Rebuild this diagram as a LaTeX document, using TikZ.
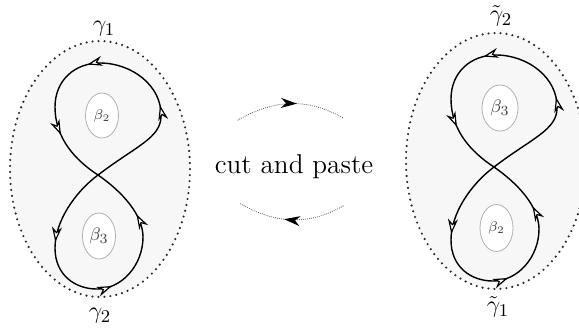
\documentclass[tikz,border=0pt]{standalone}
\usetikzlibrary{arrows.meta,decorations.markings,shapes.geometric}
\definecolor{bgc}{HTML}{F7F7F7}
\definecolor{dotc}{HTML}{2A2A2A}
\definecolor{holec}{HTML}{B0B0B0}
\definecolor{swc}{HTML}{555555}
\newcommand\eightfig[1]{%
  \coordinate (#1C) at (98,-175);
  \coordinate (#1R) at (161,-116);
  \coordinate (#1T) at (100,-63);
  \coordinate (#1L) at (55,-107);
  \coordinate (#1LL) at (55,-248);
  \coordinate (#1B) at (97,-289);
  \coordinate (#1RR) at (143,-237);
  \draw[curve] (#1C) .. controls (136,-146) and (161,-138) .. (#1R);
  \draw[curve,hk=0.12] (#1R) .. controls (162,-86) and (132,-63) .. (#1T);
  \draw[curve,hk=0.18] (#1T) .. controls (75,-63) and (55,-80) .. (#1L);
  \draw[curve,hk=0.34] (#1L) .. controls (55,-138) and (75,-160) .. (#1C);
  \draw[curve,hk=0.93] (#1C) .. controls (74,-193) and (55,-222) .. (#1LL);
  \draw[curve] (#1LL) .. controls (55,-275) and (75,-289) .. (#1B);
  \draw[curve,hk=0.2] (#1B) .. controls (122,-289) and (143,-265) .. (#1RR);
  \draw[curve,hk=0.3] (#1RR) .. controls (143,-215) and (122.6,-192) .. (#1C);
}
\begin{document}
\begin{tikzpicture}[x=0.5pt,y=0.5pt,
  curve/.style={line width=0.7pt, draw=black},
  hk/.style={postaction={decorate}, decoration={markings, mark=at position #1 with {\arrow{Stealth[length=7.5pt,width=5pt,inset=2.4pt,fill=white,line width=0.6pt]}}}},
  fk/.style={postaction={decorate}, decoration={markings, mark=at position #1 with {\arrow{Stealth[length=8pt,width=5pt,inset=2.5pt,black]}}}},
  big/.style={fill=bgc, draw=dotc, line width=1.2pt, line cap=round, dash pattern=on 0pt off 3pt},
  hole/.style={ellipse, draw=holec, line width=0.4pt, fill=white, inner sep=0pt, text=black!75},
  lbl/.style={inner sep=0pt, font=\fontsize{13}{15}\selectfont},
  swp/.style={draw=swc, line width=0.55pt, dash pattern=on 0pt off 1pt, line cap=round}]
\useasboundingbox (0,0) rectangle (579,-329);
\clip (0,0) rectangle (579,-329);
% left figure
\path[big] (100,-169) ellipse [x radius=45pt, y radius=64pt];
\eightfig{a}
\node[hole, minimum width=16.5pt, minimum height=22.5pt, font=\fontsize{7}{8}\selectfont] (aup) at (102,-115.5) {$\beta_2$};
\node[hole, minimum width=16.5pt, minimum height=23pt, font=\fontsize{9.5}{11}\selectfont] (alo) at (99,-236) {$\beta_3$};
\node[lbl] (g1) at (104,-29) {$\gamma_1$};
\node[lbl] (g2) at (100,-316) {$\gamma_2$};
% right figure
\begin{scope}[shift={(396,8)}]
\path[big] (100,-169) ellipse [x radius=45pt, y radius=64pt];
\eightfig{b}
\end{scope}
\node[hole, minimum width=18pt, minimum height=23pt, font=\fontsize{9.5}{11}\selectfont] (bup) at (500,-108) {$\beta_3$};
\node[hole, minimum width=16.5pt, minimum height=23.5pt, font=\fontsize{7}{8}\selectfont] (blo) at (496.5,-228) {$\beta_2$};
\node[lbl] (tg2) at (501,-16) {$\tilde\gamma_2$};
\node[lbl] (tg1) at (498,-307) {$\tilde\gamma_1$};
% middle
\node[font=\fontsize{13.6}{16}\selectfont, inner sep=0pt] (cp) at (294,-167) {cut and paste};
\coordinate (s1) at (238,-120);
\coordinate (s2) at (343,-118);
\coordinate (s3) at (343,-206);
\coordinate (s4) at (239,-203);
\draw[swp, fk=0.56] (s1) to[out=30,in=150] (s2);
\draw[swp, fk=0.56] (s3) to[out=-150,in=-30] (s4);
\end{tikzpicture}
\end{document}
